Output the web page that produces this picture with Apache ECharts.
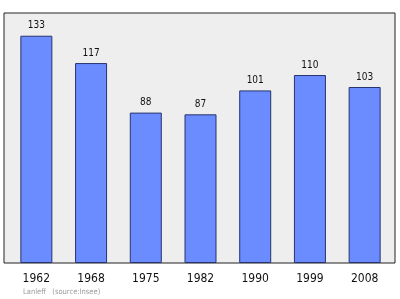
<!DOCTYPE html>
<html><head><meta charset="utf-8">
<script src="https://cdn.jsdelivr.net/npm/echarts@6/dist/echarts.min.js"></script>
<style>html,body{margin:0;padding:0;background:#fff}#c{width:400px;height:299px}</style>
</head><body><div id="c"></div>
<script>
const years = ['1962','1968','1975','1982','1990','1999','2008'];
const population = [133,117,88,87,101,110,103];
const footer = 'Lanleff   (source:Insee)';

const chart = echarts.init(document.getElementById('c'), null, {renderer:'canvas'});
const yMax = Math.max(...population) * 1.1;
chart.setOption({
  animation:false,
  backgroundColor:'#ffffff',
  grid:[
    {left:4, right:5, top:13, bottom:36, show:true, backgroundColor:'#eeeeee', borderColor:'#222222', borderWidth:1},
    {left:9, right:8, top:13, bottom:36, show:false}
  ],
  xAxis:[
    {gridIndex:0, type:'value', show:false, min:0, max:1},
    {gridIndex:1, type:'category', data:years, axisLine:{show:false}, axisTick:{show:false},
     axisLabel:{fontFamily:'DejaVu Sans Condensed', fontSize:12, color:'#111', margin:10}}
  ],
  yAxis:[
    {gridIndex:0, type:'value', show:false, min:0, max:1},
    {gridIndex:1, type:'value', min:0, max:yMax, show:false, splitLine:{show:false}}
  ],
  series:[{
    type:'bar', xAxisIndex:1, yAxisIndex:1, data:population, barWidth:32,
    itemStyle:{color:'#6a8cff', borderColor:'#27336e', borderWidth:1},
    label:{show:true, position:'top', distance:5, fontFamily:'DejaVu Sans Condensed', fontSize:10, color:'#111'}
  }],
  graphic:[{type:'text', left:23, top:288, style:{text:footer, fontFamily:'DejaVu Sans Condensed', fontSize:7.5, fill:'#9a9a9a'}}]
});
</script></body></html>
